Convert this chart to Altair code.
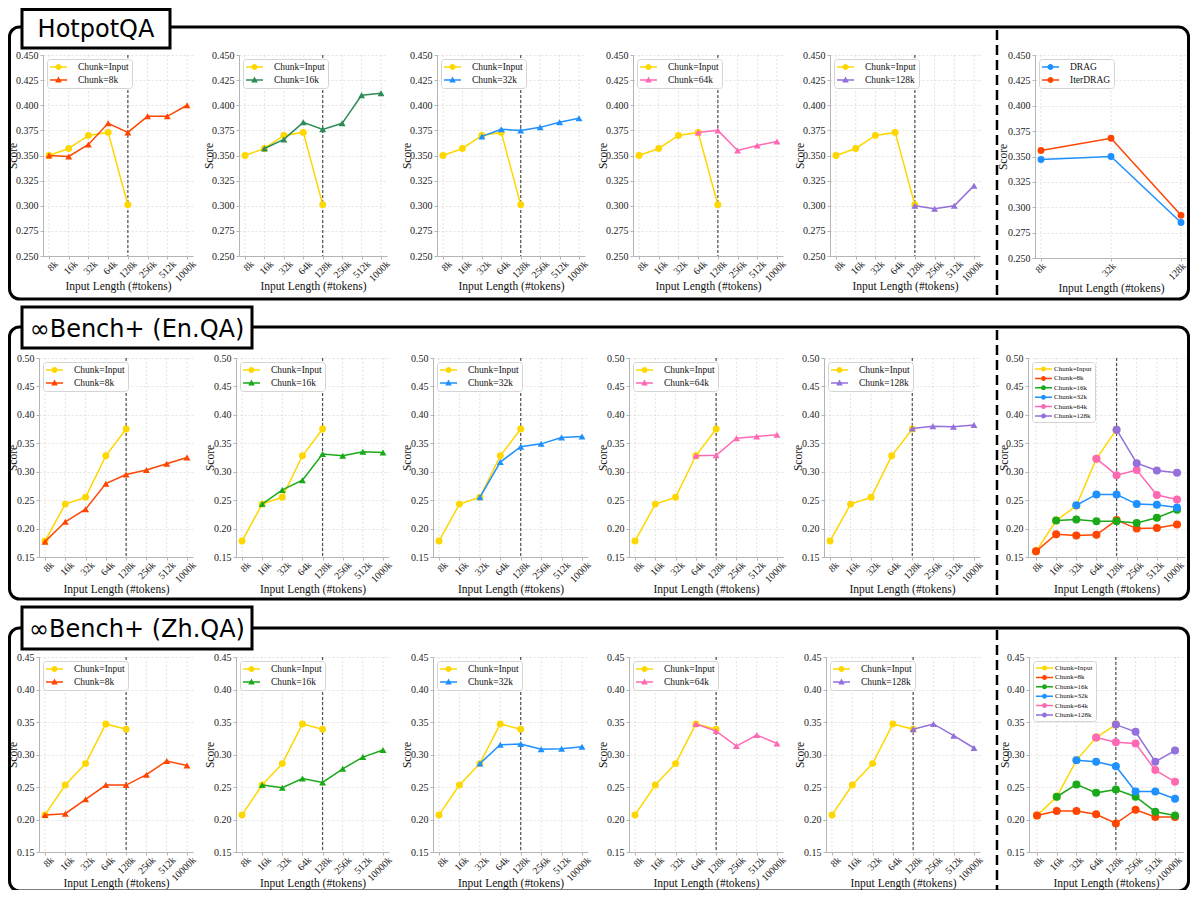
import altair as alt
import pandas as pd

W, H = 1182, 882
M = 8
SERIF = "Liberation Serif"
SANS = "DejaVu Sans"

# ---------------- data ----------------
X_LEN = ["8k", "16k", "32k", "64k", "128k", "256k", "512k", "1000k"]
X_LEN_ZH = ["8k", "16k", "32k", "64k", "128k", "256k", "512k", "10000k"]
X_DRAG = ["8k", "32k", "128k"]

Y_TICKS_HOT = [0.250, 0.275, 0.300, 0.325, 0.350, 0.375, 0.400, 0.425, 0.450]
Y_TICKS_EN = [0.15, 0.20, 0.25, 0.30, 0.35, 0.40, 0.45, 0.50]
Y_TICKS_ZH = [0.15, 0.20, 0.25, 0.30, 0.35, 0.40, 0.45]

ROW_TITLES = ["HotpotQA", "∞Bench+ (En.QA)", "∞Bench+ (Zh.QA)"]
SERIES_NAMES = ["Chunk=Input", "Chunk=8k", "Chunk=16k", "Chunk=32k", "Chunk=64k", "Chunk=128k"]
SERIES_START = ["8k", "8k", "16k", "32k", "64k", "128k"]
DRAG_NAMES = ["DRAG", "IterDRAG"]

# HotpotQA
HOT_INPUT = [0.350, 0.357, 0.370, 0.373, 0.301]
HOT_8K = [0.350, 0.349, 0.361, 0.382, 0.373, 0.389, 0.389, 0.400]
HOT_16K = [0.357, 0.366, 0.383, 0.376, 0.382, 0.410, 0.412]
HOT_32K = [0.369, 0.376, 0.375, 0.378, 0.383, 0.387]
HOT_64K = [0.373, 0.375, 0.355, 0.360, 0.364]
HOT_128K = [0.300, 0.297, 0.300, 0.320]
HOT_DRAG = [0.347, 0.350, 0.285]
HOT_ITERDRAG = [0.356, 0.368, 0.292]

# InfBench+ En.QA
EN_INPUT = [0.178, 0.243, 0.255, 0.328, 0.375]
EN_8K = [0.177, 0.212, 0.234, 0.279, 0.295, 0.303, 0.314, 0.325]
EN_16K = [0.243, 0.268, 0.285, 0.331, 0.328, 0.335, 0.334]
EN_32K = [0.255, 0.317, 0.344, 0.349, 0.360, 0.362]
EN_64K = [0.328, 0.329, 0.359, 0.362, 0.365]
EN_128K = [0.376, 0.380, 0.379, 0.382]
EN_ALL_INPUT = [0.160, 0.214, 0.240, 0.323, 0.374]
EN_ALL_8K = [0.160, 0.190, 0.188, 0.189, 0.215, 0.200, 0.201, 0.207]
EN_ALL_16K = [0.214, 0.216, 0.213, 0.213, 0.210, 0.219, 0.233]
EN_ALL_32K = [0.241, 0.260, 0.260, 0.243, 0.242, 0.237]
EN_ALL_64K = [0.323, 0.294, 0.303, 0.259, 0.251]
EN_ALL_128K = [0.374, 0.315, 0.302, 0.298]

# InfBench+ Zh.QA
ZH_INPUT = [0.207, 0.253, 0.286, 0.347, 0.339]
ZH_8K = [0.207, 0.209, 0.231, 0.253, 0.253, 0.269, 0.290, 0.283]
ZH_16K = [0.253, 0.249, 0.263, 0.257, 0.278, 0.296, 0.307]
ZH_32K = [0.286, 0.315, 0.316, 0.308, 0.309, 0.312]
ZH_64K = [0.347, 0.336, 0.313, 0.330, 0.317]
ZH_128K = [0.339, 0.347, 0.329, 0.310]
ZH_ALL_INPUT = [0.206, 0.235, 0.291, 0.326, 0.346]
ZH_ALL_8K = [0.206, 0.213, 0.213, 0.208, 0.194, 0.215, 0.204, 0.204]
ZH_ALL_16K = [0.235, 0.254, 0.241, 0.246, 0.235, 0.212, 0.206]
ZH_ALL_32K = [0.291, 0.289, 0.282, 0.243, 0.243, 0.232]
ZH_ALL_64K = [0.326, 0.319, 0.317, 0.276, 0.258]
ZH_ALL_128K = [0.346, 0.335, 0.289, 0.306]

# ---------------- styles ----------------
GOLD, RED, SEAGREEN, GREEN = "#FFD700", "#FF4500", "#2E8B57", "#19A919"
BLUE, PINK, PURPLE = "#1E90FF", "#FF69B4", "#9370DB"
COLORS_ROW1 = [GOLD, RED, SEAGREEN, BLUE, PINK, PURPLE]
COLORS_ROW23 = [GOLD, RED, GREEN, BLUE, PINK, PURPLE]
GRID = "#dadada"
SPINE = "#b5b5b5"


def legend_path(kind, S, line_len, marker, lw):
    c = (S ** 0.5) / 2.0

    def ux(p):
        return p / c - 1.0

    x0, x1, xm = ux(0), ux(line_len), ux(line_len / 2.0)
    hw = (lw / 2.0) / c
    path = f"M{x0:.3f},{-hw:.3f}H{x1:.3f}V{hw:.3f}H{x0:.3f}Z"
    if kind == "circle":
        r = (marker / 2.0) / c
        path += (f"M{xm + r:.3f},0A{r:.3f},{r:.3f} 0 1,1 {xm - r:.3f},0"
                 f"A{r:.3f},{r:.3f} 0 1,1 {xm + r:.3f},0Z")
    else:
        h = marker / c
        path += (f"M{xm:.3f},{-0.58 * h:.3f}L{xm + 0.55 * h:.3f},{0.42 * h:.3f}"
                 f"L{xm - 0.55 * h:.3f},{0.42 * h:.3f}Z")
    return path


def panel(xlabels, ydom, yticks, yfmt, geo, series, vline, leg, pt_size, ytx, xty, loff):
    left, right, top, bottom, pad = geo
    n = len(xlabels)
    padding = pad * (n - 1) / ((right - left) - 2 * pad)
    xs = alt.Scale(type="point", domain=xlabels, range=[left - M, right - M], padding=padding)
    ys = alt.Scale(type="linear", domain=ydom, range=[bottom - M, top - M], nice=False, zero=False)
    xaxis = alt.Axis(orient="bottom", offset=(bottom - M) - H, grid=False,
                     domainColor=SPINE, domainWidth=1, tickColor=SPINE, tickSize=3,
                     labelAngle=-45, labelAlign="right", labelBaseline="middle",
                     labelOffset=loff, labelPadding=3, labelOverlap=False,
                     labelFont=SERIF, labelFontSize=10, labelColor="#222",
                     title="Input Length (#tokens)", titleFont=SERIF, titleFontSize=11.5,
                     titleFontWeight="normal", titleColor="#111",
                     titleBaseline="middle", titleY=xty)
    yaxis = alt.Axis(orient="left", offset=-(left - M), values=yticks, format=yfmt,
                     grid=True, gridColor=GRID, gridDash=[2, 2], gridWidth=0.8,
                     domainColor=SPINE, domainWidth=1, tickColor=SPINE, tickSize=3,
                     labelFont=SERIF, labelFontSize=10, labelColor="#222", labelPadding=2,
                     labelOverlap=False,
                     title="Score", titleFont=SERIF, titleFontSize=11.5,
                     titleFontWeight="normal", titleColor="#111",
                     titleAngle=270, titleBaseline="bottom", titleAlign="center", titleX=ytx)
    grid_df = pd.DataFrame({"x": xlabels, "lo": [ydom[0]] * n, "hi": [ydom[1]] * n})
    layers = [
        alt.Chart(grid_df).mark_rule(color=GRID, strokeDash=[2, 2], strokeWidth=0.8).encode(
            x=alt.X("x:N", scale=xs, axis=xaxis),
            y=alt.Y("hi:Q", scale=ys, axis=yaxis),
            y2="lo:Q",
        )
    ]
    if vline:
        vdf = pd.DataFrame({"x": ["128k"], "lo": [ydom[0]], "hi": [ydom[1]]})
        layers.append(
            alt.Chart(vdf).mark_rule(color="#505050", strokeDash=[3, 2], strokeWidth=1.2).encode(
                x=alt.X("x:N", scale=xs, axis=xaxis),
                y=alt.Y("hi:Q", scale=ys, axis=yaxis),
                y2="lo:Q",
            )
        )
    for name, color, shape, start, vals in series:
        i0 = xlabels.index(start)
        df = pd.DataFrame({"x": xlabels[i0:i0 + len(vals)], "y": vals, "i": list(range(len(vals)))})
        enc = dict(x=alt.X("x:N", scale=xs, axis=xaxis), y=alt.Y("y:Q", scale=ys, axis=yaxis))
        layers.append(alt.Chart(df).mark_line(color=color, strokeWidth=1.5).encode(
            order="i:Q", **enc))
        layers.append(alt.Chart(df).mark_point(color=color, filled=True, shape=shape,
                                               size=pt_size, opacity=1, strokeWidth=0).encode(**enc))
    names = [s[0] for s in series]
    cols = [s[1] for s in series]
    paths = [legend_path(s[2], leg["S"], leg["line"], leg["marker"], 1.5) for s in series]
    L = alt.Legend(title=None, orient="none", legendX=left + 4 - M, legendY=top + 4 - M,
                   direction="vertical", symbolSize=leg["S"], symbolStrokeWidth=0,
                   symbolOpacity=1, labelFont=SERIF, labelFontSize=leg["fs"],
                   labelColor="#111", labelOffset=leg["lo"], rowPadding=leg["rp"],
                   padding=3, fillColor="white", strokeColor="#d4d4d4", cornerRadius=3,
                   labelLimit=300)
    ldf = pd.DataFrame({"s": names})
    layers.append(alt.Chart(ldf).mark_point(filled=True, opacity=0).encode(
        color=alt.Color("s:N", scale=alt.Scale(domain=names, range=cols), legend=L),
        shape=alt.Shape("s:N", scale=alt.Scale(domain=names, range=paths), legend=L),
    ))
    return alt.layer(*layers)


LEG_SMALL = dict(S=100, line=17, marker=6, fs=9.5, lo=18, rp=3)
LEG_BIG = dict(S=64, line=17, marker=5, fs=7, lo=11, rp=2.4)

ROWS = [
    dict(xl=X_LEN, ydom=[0.25, 0.45], ticks=Y_TICKS_HOT, fmt=".3f", top=55, bottom=256,
         lefts=[43, 239, 437, 633, 830, 1035], rights=[193, 387, 585, 783, 980, 1187],
         colors=COLORS_ROW1, ytx=-25, ytx6=-27, xty=30,
         chunks=[HOT_INPUT, HOT_8K, HOT_16K, HOT_32K, HOT_64K, HOT_128K]),
    dict(xl=X_LEN, ydom=[0.15, 0.50], ticks=Y_TICKS_EN, fmt=".2f", top=358, bottom=557,
         lefts=[39, 236, 433, 629, 824, 1028], rights=[193, 389, 588, 783, 980, 1185],
         colors=COLORS_ROW23, ytx=-21, ytx6=-19, xty=32,
         chunks=[EN_INPUT, EN_8K, EN_16K, EN_32K, EN_64K, EN_128K],
         agg=[EN_ALL_INPUT, EN_ALL_8K, EN_ALL_16K, EN_ALL_32K, EN_ALL_64K, EN_ALL_128K]),
    dict(xl=X_LEN_ZH, ydom=[0.15, 0.45], ticks=Y_TICKS_ZH, fmt=".2f", top=657, bottom=852,
         lefts=[39, 236, 433, 629, 826, 1029], rights=[193, 389, 588, 783, 980, 1183],
         colors=COLORS_ROW23, ytx=-21, ytx6=-19, xty=31,
         chunks=[ZH_INPUT, ZH_8K, ZH_16K, ZH_32K, ZH_64K, ZH_128K],
         agg=[ZH_ALL_INPUT, ZH_ALL_8K, ZH_ALL_16K, ZH_ALL_32K, ZH_ALL_64K, ZH_ALL_128K]),
]

panels = []
for r, row in enumerate(ROWS):
    cols = row["colors"]
    for k in range(1, 6):
        series = [
            (SERIES_NAMES[0], cols[0], "circle", SERIES_START[0], row["chunks"][0]),
            (SERIES_NAMES[k], cols[k], "triangle-up", SERIES_START[k], row["chunks"][k]),
        ]
        geo = (row["lefts"][k - 1], row["rights"][k - 1], row["top"], row["bottom"], 6)
        panels.append(panel(row["xl"], row["ydom"], row["ticks"], row["fmt"], geo, series,
                            True, LEG_SMALL, 48, row["ytx"], row["xty"], 7))
    if r == 0:
        series = [(DRAG_NAMES[0], BLUE, "circle", "8k", HOT_DRAG),
                  (DRAG_NAMES[1], RED, "circle", "8k", HOT_ITERDRAG)]
        geo = (row["lefts"][5], row["rights"][5], row["top"], 258, 6)
        panels.append(panel(X_DRAG, row["ydom"], row["ticks"], row["fmt"], geo, series,
                            False, LEG_SMALL, 48, row["ytx6"], row["xty"], 3))
    else:
        series = [(SERIES_NAMES[j], cols[j], "circle", SERIES_START[j], row["agg"][j])
                  for j in range(6)]
        geo = (row["lefts"][5], row["rights"][5], row["top"], row["bottom"], 8)
        panels.append(panel(row["xl"], row["ydom"], row["ticks"], row["fmt"], geo, series,
                            True, LEG_BIG, 64, row["ytx6"], row["xty"], 5))

# ---------------- decorations (layout only) ----------------
FRAMES = [(19, 291), (319, 591), (620, 883)]
BOXES = [(14, 162, 1.5, 40, 29), (14, 244, 299, 340, 329), (14, 244, 599, 641, 629)]
SEPS = [(22, 289), (322, 590), (622, 882)]
SEP_X = 989

one = alt.Data(values=[{"k": 0}])
frames, boxes = [], []
for (y1, y2) in FRAMES:
    frames.append(alt.Chart(one).mark_rect(fill="white", fillOpacity=0, stroke="black",
                                           strokeWidth=3, cornerRadius=10).encode(
        x=alt.value(1.5), x2=alt.value(W - 1.5), y=alt.value(y1), y2=alt.value(y2)))
for (y1, y2) in SEPS:
    frames.append(alt.Chart(one).mark_rule(color="black", strokeWidth=2.5,
                                           strokeDash=[10, 5]).encode(
        x=alt.value(SEP_X), y=alt.value(y1), y2=alt.value(y2)))
for (x1, x2, y1, y2, yb), title in zip(BOXES, ROW_TITLES):
    boxes.append(alt.Chart(one).mark_rect(fill="white", stroke="black", strokeWidth=3).encode(
        x=alt.value(x1), x2=alt.value(x2), y=alt.value(y1), y2=alt.value(y2)))
    tdf = pd.DataFrame({"t": [title]})
    boxes.append(alt.Chart(tdf).mark_text(font=SANS, fontSize=24, color="black",
                                          align="center", baseline="alphabetic").encode(
        x=alt.value((x1 + x2) / 2), y=alt.value(yb), text="t:N"))

chart = alt.layer(*frames, *panels, *boxes).resolve_scale(
    x="independent", y="independent", color="independent", shape="independent"
).resolve_axis(x="independent", y="independent").resolve_legend(
    color="independent", shape="independent"
).properties(
    width=W, height=H, autosize=alt.AutoSizeParams(type="none"), padding=0
).configure_view(stroke="transparent")

chart.save("out.html", embed_options={"renderer": "svg", "actions": False})
